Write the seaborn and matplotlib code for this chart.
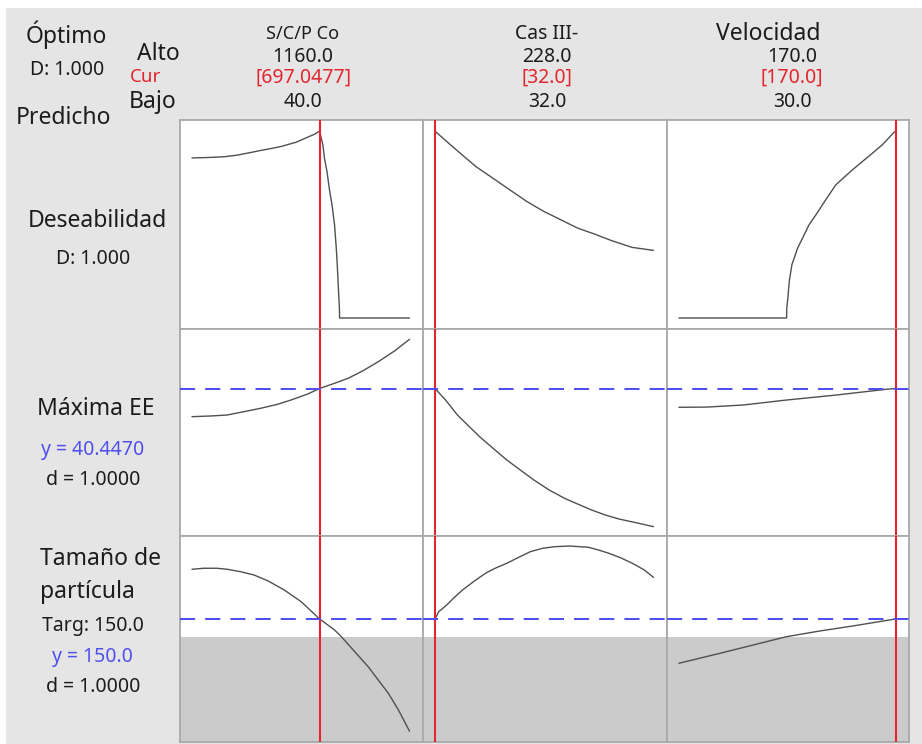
import matplotlib
matplotlib.use("Agg")
import matplotlib.pyplot as plt
from matplotlib.patches import Rectangle
import pandas as pd
import seaborn as sns

# ---- optimizer settings -------------------------------------------------
factor_names = ["S/C/P Co", "Cas III-", "Velocidad"]
factor_high = [1160.0, 228.0, 170.0]
factor_low = [40.0, 32.0, 30.0]
factor_current = [697.0477, 32.0, 170.0]

composite_d = 1.000
max_ee_pred = 40.4470
max_ee_d = 1.0000
size_target = 150.0
size_pred = 150.0
size_lower = 140.0
size_d = 1.0000

# ---- composite desirability traces ---------------------------------------
desir_scp_x = [40, 118, 204, 273, 333, 394, 446, 498, 576, 636, 671, 697.0477,
               714, 722, 735, 748, 761, 774, 783, 788, 793, 799, 800, 1160]
desir_scp_y = [0.857, 0.859, 0.863, 0.872, 0.884, 0.897, 0.907, 0.918, 0.941, 0.968, 0.984, 1.0,
               0.927, 0.856, 0.785, 0.686, 0.606, 0.499, 0.374, 0.285, 0.178, 0.053, 0.0, 0.0]
desir_cas_x = [32, 44.2, 56.4, 68.6, 83.8, 99.1, 114.3, 129.5, 144.8, 160.0, 175.3, 190.5, 208.8, 228]
desir_cas_y = [1.0, 0.936, 0.873, 0.811, 0.749, 0.686, 0.624, 0.571, 0.526, 0.481, 0.449, 0.414, 0.378, 0.362]
desir_vel_x = [30, 99.6, 99.7, 100.4, 101.3, 103.0, 104.5, 106.7, 109.9, 114.1, 118.5, 124.9,
               131.4, 142.1, 155.0, 161.4, 168.9, 170]
desir_vel_y = [0.0, 0.0, 0.053, 0.107, 0.196, 0.285, 0.321, 0.374, 0.428, 0.499, 0.552, 0.633,
               0.713, 0.793, 0.882, 0.927, 0.993, 1.0]

# ---- Máxima EE traces -----------------------------------------------------
maxee_scp_x = [40, 135, 221, 308, 394, 481, 550, 636, 697.0477, 774, 844, 921, 999, 1085, 1160]
maxee_scp_y = [36.22, 36.32, 36.47, 36.97, 37.48, 38.08, 38.72, 39.62, 40.447, 41.23, 41.98,
               43.12, 44.47, 46.12, 47.83]
maxee_cas_x = [32, 41.5, 52.1, 62.8, 72.0, 84.1, 96.4, 108.5, 120.7, 134.4, 148.1, 160.4,
               172.5, 184.7, 196.9, 212.1, 228]
maxee_cas_y = [40.447, 38.72, 36.47, 34.72, 33.22, 31.47, 29.72, 28.22, 26.72, 25.22, 23.98,
               23.08, 22.22, 21.47, 20.87, 20.32, 19.72]
maxee_vel_x = [30, 48.0, 71.6, 99.6, 131.8, 164.0, 170]
maxee_vel_y = [37.63, 37.66, 37.97, 38.72, 39.47, 40.33, 40.447]

# ---- Tamaño de partícula traces -------------------------------------------
size_scp_x = [40, 100, 170, 221, 290, 359, 429, 515, 602, 697.0477, 774, 809, 878, 947,
              999, 1051, 1103, 1160]
size_scp_y = [177.58, 178.14, 178.14, 177.58, 176.25, 174.42, 171.27, 166.10, 159.6, 150.0,
              143.9, 140.18, 131.85, 123.53, 116.14, 108.76, 99.5, 87.67]
size_cas_x = [32, 35.4, 41.5, 49.1, 56.7, 67.4, 78.1, 87.2, 96.4, 107.0, 117.7, 128.4, 139.0,
              152.7, 169.5, 178.6, 187.8, 198.4, 209.1, 219.8, 228]
size_cas_y = [150.0, 154.1, 157.2, 161.8, 166.1, 171.1, 175.7, 178.5, 180.9, 184.2, 187.4,
              189.2, 190.1, 190.5, 189.8, 188.3, 186.5, 184.0, 180.9, 177.2, 173.1]
size_vel_x = [30, 56.6, 78.1, 99.6, 121.1, 142.5, 170]
size_vel_y = [125.41, 130.96, 135.57, 140.18, 143.34, 146.12, 150.0]

desir_traces = [(desir_scp_x, desir_scp_y), (desir_cas_x, desir_cas_y), (desir_vel_x, desir_vel_y)]
maxee_traces = [(maxee_scp_x, maxee_scp_y), (maxee_cas_x, maxee_cas_y), (maxee_vel_x, maxee_vel_y)]
size_traces = [(size_scp_x, size_scp_y), (size_cas_x, size_cas_y), (size_vel_x, size_vel_y)]

# ---- styling --------------------------------------------------------------
sns.set_style("white")
FONT = ["Noto Sans", "DejaVu Sans"]
plt.rcParams["font.family"] = FONT

W, H = 922, 744
BG = "#e5e5e5"
SHADE = "#cbcbcb"
FRAME = "#a9a9a9"
CURVE = "#505050"
RED = "#e3262d"
BLUE = "#5050f0"
TXT = "#1c1c1c"

fig = plt.figure(figsize=(W / 100, H / 100), dpi=100, facecolor="white")
fig.patches.append(Rectangle((6 / W, 0), 1 - 6 / W, 1 - 8 / H, transform=fig.transFigure,
                             facecolor=BG, edgecolor="none", zorder=-10))

col_edges = [180, 423, 667, 909]
row_edges = [120, 329, 536, 742]


def px_axes(x0, y0, x1, y1):
    return fig.add_axes([x0 / W, 1 - y1 / H, (x1 - x0) / W, (y1 - y0) / H])


def ylims(traces, pad_lo, pad_hi):
    vals = [v for _, ys in traces for v in ys]
    lo, hi = min(vals), max(vals)
    r = hi - lo
    return lo - pad_lo * r, hi + pad_hi * r


row_traces = [desir_traces, maxee_traces, size_traces]
row_ylims = [(-0.059, 1.060), ylims(maxee_traces, 0.05, 0.055), ylims(size_traces, 0.058, 0.054)]
row_ref = [None, max_ee_pred, size_target]

for r in range(3):
    for c in range(3):
        ax = px_axes(col_edges[c], row_edges[r], col_edges[c + 1], row_edges[r + 1])
        ax.set_facecolor("white")
        lo, hi = factor_low[c], factor_high[c]
        span = hi - lo
        ax.set_xlim(lo - 0.055 * span, hi + 0.062 * span)
        ax.set_ylim(*row_ylims[r])
        xs, ys = row_traces[r][c]
        df = pd.DataFrame({"x": xs, "y": ys})
        if r == 2:
            ax.axhspan(row_ylims[r][0], size_lower, color=SHADE, lw=0, zorder=1)
        sns.lineplot(data=df, x="x", y="y", ax=ax, color=CURVE, lw=1.0,
                     sort=False, estimator=None, legend=False, zorder=3)
        ax.axvline(factor_current[c], color=RED, lw=1.5, zorder=5)
        if row_ref[r] is not None:
            ax.axhline(row_ref[r], color=BLUE, lw=1.45, ls=(0, (7.5, 5)), zorder=6, clip_on=False)
        ax.set_xticks([])
        ax.set_yticks([])
        ax.set_xlabel("")
        ax.set_ylabel("")
        for s in ax.spines.values():
            s.set_color(FRAME)
            s.set_linewidth(1.3)
            s.set_visible(True)


def ftext(x, y, s, size, color=TXT, ha="center"):
    # y given as pixel centre from the top; small nudge for the font's ascent
    fig.text(x / W, 1 - (y + 2) / H, s, fontsize=size, color=color, ha=ha, va="center")


BIG = 16.5
MID = 14

# header block
ftext(66, 33, "Óptimo", BIG)
ftext(67, 68, f"D: {composite_d:.3f}", MID)
ftext(63, 116, "Predicho", BIG)
ftext(158, 52, "Alto", BIG)
ftext(130, 75, "Cur", MID - 0.5, color=RED, ha="left")
ftext(153, 100, "Bajo", BIG)

head_x = [303, 547, 792]
name_x = [303, 547, 768]
name_size = [13, MID, BIG]
for c in range(3):
    ftext(name_x[c], 32, factor_names[c], name_size[c])
    ftext(head_x[c], 55, f"{factor_high[c]:.1f}", MID)
    cur = factor_current[c]
    cur_s = f"[{cur:.4f}]" if c == 0 else f"[{cur:.1f}]"
    ftext(head_x[c], 76, cur_s, MID, color=RED)
    ftext(head_x[c], 100, f"{factor_low[c]:.1f}", MID)

# row labels
ftext(97, 219, "Deseabilidad", BIG)
ftext(93, 257, f"D: {composite_d:.3f}", MID)

ftext(96, 407, "Máxima EE", BIG)
ftext(93, 448, f"y = {max_ee_pred:.4f}", MID, color=BLUE)
ftext(93, 478, f"d = {max_ee_d:.4f}", MID)

ftext(40, 557, "Tamaño de", BIG, ha="left")
ftext(40, 590, "partícula", BIG, ha="left")
ftext(93, 624, f"Targ: {size_target:.1f}", MID)
ftext(92, 655, f"y = {size_pred:.1f}", MID, color=BLUE)
ftext(93, 685, f"d = {size_d:.4f}", MID)

fig.savefig("out.png", dpi=100, facecolor="white")
